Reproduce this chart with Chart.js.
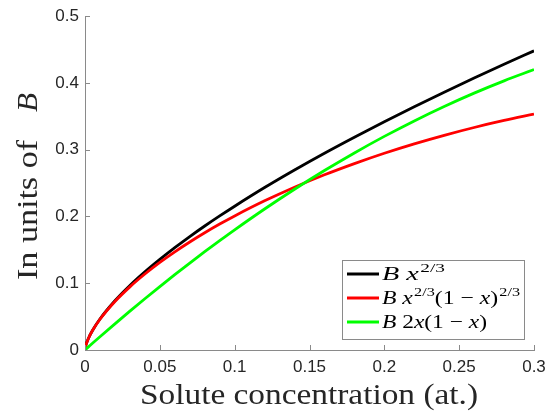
<!DOCTYPE html>
<html>
<head>
<meta charset="utf-8">
<script src="https://cdn.jsdelivr.net/npm/chart.js@4/dist/chart.umd.min.js"></script>
<style>
html,body{margin:0;padding:0;background:#fff;}
#wrap{position:relative;width:555px;height:412px;}
</style>
</head>
<body>
<div id="wrap"><canvas id="c" width="555" height="412"></canvas></div>
<script>
// ---- data ----
const xValues = [0, 0.0005, 0.001, 0.0025, 0.005, 0.01, 0.02, 0.03, 0.04, 0.05, 0.06, 0.07, 0.08, 0.09, 0.10, 0.12, 0.14, 0.16, 0.18, 0.20, 0.22, 0.24, 0.26, 0.28, 0.30];
const blackValues = [0, 0.0063, 0.0100, 0.0184, 0.0292, 0.0464, 0.0737, 0.0966, 0.1170, 0.1357, 0.1533, 0.1699, 0.1857, 0.2008, 0.2154, 0.2433, 0.2696, 0.2947, 0.3187, 0.3420, 0.3645, 0.3862, 0.4074, 0.4280, 0.4481];
const redValues   = [0, 0.0063, 0.0100, 0.0184, 0.0291, 0.0461, 0.0727, 0.0946, 0.1138, 0.1312, 0.1471, 0.1618, 0.1756, 0.1886, 0.2008, 0.2234, 0.2438, 0.2624, 0.2792, 0.2947, 0.3088, 0.3216, 0.3333, 0.3438, 0.3533];
const greenValues = [0, 0.0010, 0.0020, 0.0050, 0.0100, 0.0198, 0.0392, 0.0582, 0.0768, 0.0950, 0.1128, 0.1302, 0.1472, 0.1638, 0.1800, 0.2112, 0.2408, 0.2688, 0.2952, 0.3200, 0.3432, 0.3648, 0.3848, 0.4032, 0.4200];
const xTicks = [0, 0.05, 0.1, 0.15, 0.2, 0.25, 0.3];
const yTicks = [0, 0.1, 0.2, 0.3, 0.4, 0.5];
const xTitle = "Solute concentration (at.)";
const yTitleText = "In units of";
const yTitleSym = "B";
const seriesNames = ["B x^(2/3)", "B x^(2/3)(1 − x)^(2/3)", "B 2x(1 − x)"];

// rich legend labels: [text, kind] kind: i=italic, n=normal, s=superscript
const legendRich = [
  [["B","i"],[" ","n"],["x","i"],["2/3","s"]],
  [["B","i"],[" ","n"],["x","i"],["2/3","s"],["(1 − ","n"],["x","i"],[")","n"],["2/3","s"]],
  [["B","i"],[" 2","n"],["x","i"],["(1 − ","n"],["x","i"],[")","n"]]
];
const colors = ["#000000", "#ff0000", "#00ff00"];

const toPts = arr => xValues.map((x, i) => ({x: x, y: arr[i]}));

const AXIS = "#8a8a8a";
const TXT = "#262626";
const SERIF = '"Liberation Serif", "DejaVu Serif", serif';
const SANS = '"Liberation Sans", Arial, sans-serif';

// draw text stretched horizontally to a target width
function drawFit(ctx, text, x, y, target) {
  const w = ctx.measureText(text).width;
  ctx.save();
  ctx.translate(x, y);
  ctx.scale(target / w, 1);
  ctx.fillText(text, 0, 0);
  ctx.restore();
}

function richWidth(ctx, segs) {
  let w = 0;
  segs.forEach(([t, k]) => {
    if (k === "s") { ctx.font = "13px " + SERIF; w += ctx.measureText(t).width + 1; }
    else { ctx.font = (k === "i" ? "italic " : "") + "19px " + SERIF; w += ctx.measureText(t).width; }
  });
  return w;
}

const legendEnds = [445, 520, 487];

const decor = {
  id: "decor",
  afterDraw(chart) {
    const ctx = chart.ctx;
    const xs = chart.scales.x, ys = chart.scales.y;
    const ca = chart.chartArea;
    ctx.save();
    // inward ticks
    ctx.strokeStyle = AXIS;
    ctx.lineWidth = 1;
    ctx.beginPath();
    xTicks.forEach(v => {
      const px = Math.round(xs.getPixelForValue(v)) + 0.5;
      ctx.moveTo(px, ca.bottom);
      ctx.lineTo(px, ca.bottom - 5);
    });
    yTicks.forEach(v => {
      const py = Math.round(ys.getPixelForValue(v)) + 0.5;
      ctx.moveTo(ca.left, py);
      ctx.lineTo(ca.left + 5, py);
    });
    ctx.stroke();

    // x title
    ctx.fillStyle = TXT;
    ctx.font = "29px " + SERIF;
    ctx.textBaseline = "alphabetic";
    ctx.textAlign = "left";
    drawFit(ctx, xTitle, 140, 404, 338);

    // y title (rotated)
    ctx.save();
    ctx.translate(37, 280);
    ctx.rotate(-Math.PI / 2);
    ctx.font = "29px " + SERIF;
    drawFit(ctx, yTitleText, 0, 0, 140);
    ctx.font = "italic 29px " + SERIF;
    drawFit(ctx, yTitleSym, 168, 0, 19);
    ctx.restore();

    // legend box
    const bx = 342.5, by = 260.5, bw = 182, bh = 79;
    ctx.fillStyle = "#ffffff";
    ctx.fillRect(bx, by, bw, bh);
    ctx.strokeStyle = AXIS;
    ctx.lineWidth = 1;
    ctx.strokeRect(bx, by, bw, bh);
    const rows = [274, 298, 322];
    legendRich.forEach((segs, i) => {
      const y = rows[i];
      ctx.strokeStyle = colors[i];
      ctx.lineWidth = 3;
      ctx.beginPath();
      ctx.moveTo(347, y);
      ctx.lineTo(379, y);
      ctx.stroke();
      const x0 = 382;
      const total = richWidth(ctx, segs);
      const sc = (legendEnds[i] - x0) / total;
      ctx.save();
      ctx.translate(x0, y + 6);
      ctx.scale(sc, 1);
      let x = 0;
      segs.forEach(([t, k]) => {
        ctx.fillStyle = "#000";
        if (k === "s") {
          ctx.font = "13px " + SERIF;
          ctx.fillText(t, x + 1, -8);
          x += ctx.measureText(t).width + 1;
        } else {
          ctx.font = (k === "i" ? "italic " : "") + "19px " + SERIF;
          ctx.fillText(t, x, 0);
          x += ctx.measureText(t).width;
        }
      });
      ctx.restore();
    });
    ctx.restore();
  }
};

new Chart(document.getElementById("c"), {
  type: "scatter",
  data: {
    datasets: [
      {label: seriesNames[0], data: toPts(blackValues), borderColor: colors[0], order: 3},
      {label: seriesNames[1], data: toPts(redValues), borderColor: colors[1], order: 2},
      {label: seriesNames[2], data: toPts(greenValues), borderColor: colors[2], order: 1}
    ].map(d => Object.assign(d, {showLine: true, borderWidth: 2.8, pointRadius: 0, pointHoverRadius: 0, cubicInterpolationMode: "monotone", fill: false}))
  },
  options: {
    responsive: false,
    animation: false,
    events: [],
    layout: {padding: {top: 16, right: 21, left: 0, bottom: 0}},
    plugins: {legend: {display: false}, tooltip: {enabled: false}},
    scales: {
      x: {
        type: "linear", min: 0, max: 0.3,
        afterBuildTicks: s => { s.ticks = xTicks.map(v => ({value: v})); },
        afterFit: s => { s.height = 62; },
        grid: {drawOnChartArea: false, drawTicks: false},
        border: {display: true, color: AXIS, width: 1},
        ticks: {color: TXT, font: {family: SANS, size: 17}, padding: 7, maxRotation: 0,
                callback: v => String(Math.round(v * 100) / 100)}
      },
      y: {
        type: "linear", min: 0, max: 0.5,
        afterBuildTicks: s => { s.ticks = yTicks.map(v => ({value: v})); },
        afterFit: s => { s.width = 85; },
        grid: {drawOnChartArea: false, drawTicks: false},
        border: {display: true, color: AXIS, width: 1},
        ticks: {color: TXT, font: {family: SANS, size: 17}, padding: 6,
                callback: v => String(Math.round(v * 10) / 10)}
      }
    }
  },
  plugins: [decor]
});
</script>
</body>
</html>
